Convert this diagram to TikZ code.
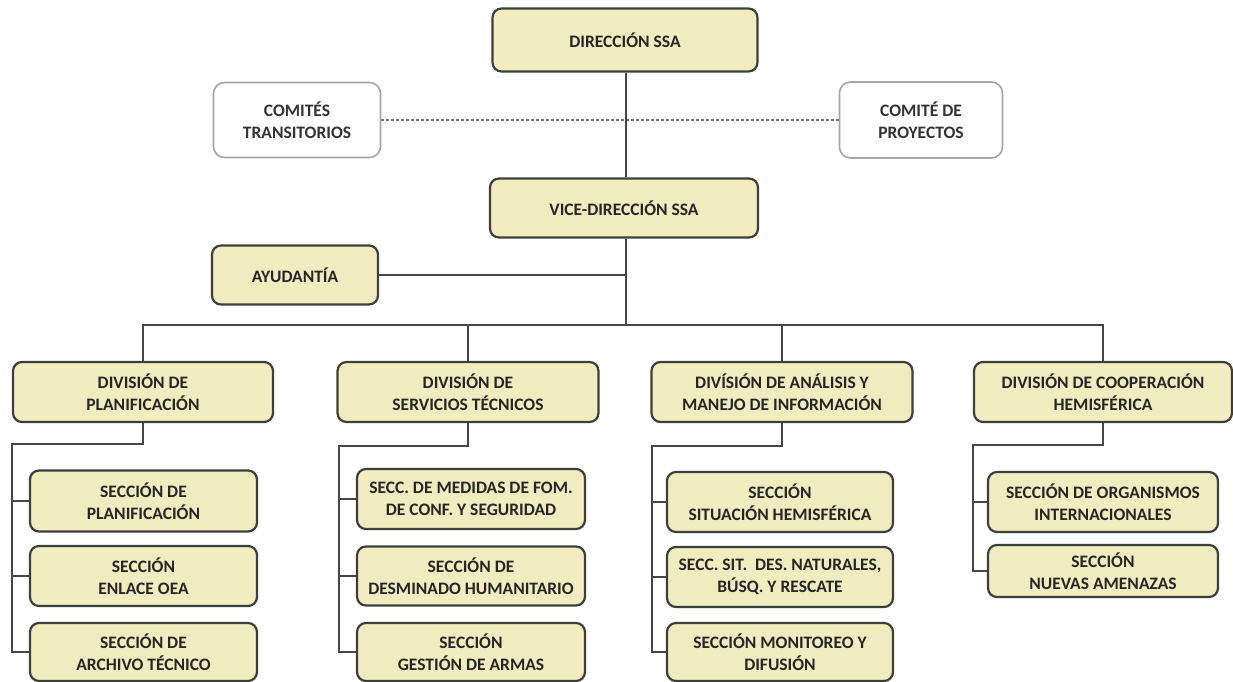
\documentclass[tikz,border=0pt]{standalone}
\usepackage{fontspec}
\setmainfont{Carlito}
\definecolor{boxfill}{RGB}{240,236,192}
\definecolor{boxline}{RGB}{62,62,58}
\definecolor{wireline}{RGB}{70,70,70}
\definecolor{softline}{RGB}{165,165,165}
\tikzset{
  unit/.style={draw=boxline, line width=2.2pt, fill=boxfill, rounded corners=9pt,
    align=center, inner sep=0pt, font=\fontsize{17.5}{22.5}\selectfont\bfseries, text=black!85},
  committee/.style={draw=softline, line width=1.6pt, fill=white, rounded corners=11pt,
    align=center, inner sep=0pt, font=\fontsize{17.5}{22.5}\selectfont\bfseries, text=black!80},
  wire/.style={draw=wireline, line width=2pt},
  dotwire/.style={draw=softline!70!black, line width=2pt, dash pattern=on 3pt off 2pt}
}
\begin{document}
\begin{tikzpicture}[x=1pt,y=-1pt]
\useasboundingbox (0,0) rectangle (1233,681);

% top management
\node[unit, minimum width=265pt, minimum height=63pt] (dir) at (625,40) {DIRECCIÓN SSA};
\node[committee, minimum width=167pt, minimum height=75pt] (ct) at (297,120) {COMITÉS\\TRANSITORIOS};
\node[committee, minimum width=163pt, minimum height=76pt] (cp) at (921,120) {COMITÉ DE\\PROYECTOS};
\node[unit, minimum width=268pt, minimum height=59pt] (vice) at (624,208) {VICE-DIRECCIÓN SSA};
\node[unit, minimum width=166pt, minimum height=59pt] (ayu) at (295,275) {AYUDANTÍA};

% divisions
\node[unit, minimum width=260pt, minimum height=60pt] (d1) at (143,392) {DIVISIÓN DE\\PLANIFICACIÓN};
\node[unit, minimum width=261pt, minimum height=60pt] (d2) at (468,392) {DIVISIÓN DE\\SERVICIOS TÉCNICOS};
\node[unit, minimum width=261pt, minimum height=60pt] (d3) at (782,392) {DIVÍSIÓN DE ANÁLISIS Y\\MANEJO DE INFORMACIÓN};
\node[unit, minimum width=258pt, minimum height=60pt] (d4) at (1103,392) {DIVISIÓN DE COOPERACIÓN\\HEMISFÉRICA};

% sections: planning
\node[unit, minimum width=227pt, minimum height=61pt] (s11) at (143.5,501) {SECCIÓN DE\\PLANIFICACIÓN};
\node[unit, minimum width=227pt, minimum height=60pt] (s12) at (143.5,576) {SECCIÓN\\ENLACE OEA};
\node[unit, minimum width=227pt, minimum height=58pt] (s13) at (143.5,652) {SECCIÓN DE\\ARCHIVO TÉCNICO};

% sections: technical services
\node[unit, minimum width=228pt, minimum height=60pt] (s21) at (471,499) {SECC. DE MEDIDAS DE FOM.\\DE CONF. Y SEGURIDAD};
\node[unit, minimum width=228pt, minimum height=59pt] (s22) at (471,576) {SECCIÓN DE\\DESMINADO HUMANITARIO};
\node[unit, minimum width=228pt, minimum height=58pt] (s23) at (471,652) {SECCIÓN\\GESTIÓN DE ARMAS};

% sections: analysis
\node[unit, minimum width=226pt, minimum height=60pt] (s31) at (780,502) {SECCIÓN\\SITUACIÓN HEMISFÉRICA};
\node[unit, minimum width=226pt, minimum height=60pt] (s32) at (780,577) {SECC. SIT.\ \ DES. NATURALES,\\BÚSQ. Y RESCATE};
\node[unit, minimum width=226pt, minimum height=58pt] (s33) at (780,652) {SECCIÓN MONITOREO Y\\DIFUSIÓN};

% sections: cooperation
\node[unit, minimum width=230pt, minimum height=60pt] (s41) at (1103,502) {SECCIÓN DE ORGANISMOS\\INTERNACIONALES};
\node[unit, minimum width=230pt, minimum height=52pt] (s42) at (1103,571) {SECCIÓN\\NUEVAS AMENAZAS};

% junction points
\coordinate (bus) at (626,325);
\coordinate (t1) at (12,444);
\coordinate (t2) at (339,446);
\coordinate (t3) at (652,446);
\coordinate (t4) at (973,445);

% committees link
\draw[dotwire] (ct.east) -- (cp.west);
% main trunk
\draw[wire] (dir.south -| bus) -- (vice.north -| bus);
\draw[wire] (vice.south -| bus) -- (bus);
\draw[wire] (ayu.east) -- (ayu.east -| bus);
\draw[wire] (d1.north) |- (bus) -| (d4.north);
\draw[wire] (d2.north) |- (bus);
\draw[wire] (d3.north) |- (bus);

% planning branch
\draw[wire] (d1.south) |- (t1) |- (s13.west);
\draw[wire] (s11.west -| t1) -- (s11.west);
\draw[wire] (s12.west -| t1) -- (s12.west);
% technical services branch
\draw[wire] (d2.south) |- (t2) |- (s23.west);
\draw[wire] (s21.west -| t2) -- (s21.west);
\draw[wire] (s22.west -| t2) -- (s22.west);
% analysis branch
\draw[wire] (d3.south) |- (t3) |- (s33.west);
\draw[wire] (s31.west -| t3) -- (s31.west);
\draw[wire] (s32.west -| t3) -- (s32.west);
% cooperation branch
\draw[wire] (d4.south) |- (t4) |- (s42.west);
\draw[wire] (s41.west -| t4) -- (s41.west);
\end{tikzpicture}
\end{document}
